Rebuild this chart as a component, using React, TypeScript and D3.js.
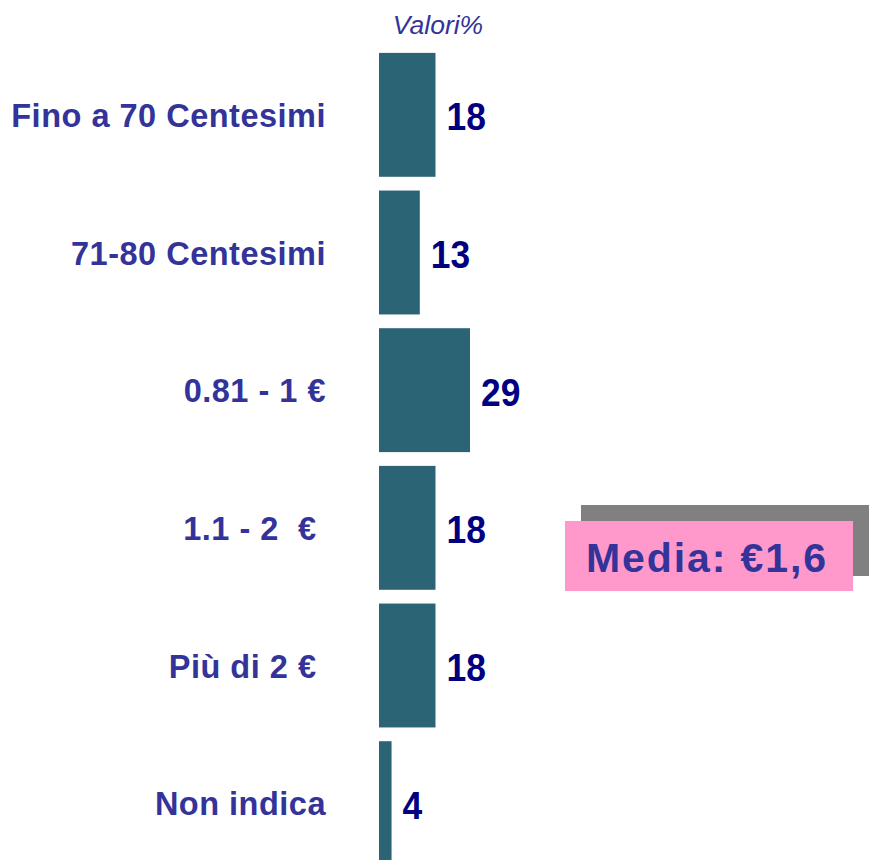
import React, { useRef, useEffect } from "react";
import * as d3 from "d3";

const categories = [
  "Fino a 70 Centesimi",
  "71-80 Centesimi",
  "0.81 - 1 €",
  "1.1 - 2  € ",
  "Più di 2 € ",
  "Non indica",
];
const values = [18, 13, 29, 18, 18, 4];
const title = "Valori%";
const mediaLabel = "Media: €1,6";

const FONT = "'Liberation Sans', Arial, sans-serif";

const App = () => {
  const svgRef = useRef<SVGSVGElement>(null);

  useEffect(() => {
    const width = 870;
    const height = 860;
    const svg = d3.select(svgRef.current).attr("width", width).attr("height", height);
    svg.selectAll("*").remove();

    const data = categories.map((c, i) => ({ cat: c, value: values[i] }));

    const x = d3.scaleLinear().domain([0, 29]).range([379, 470]);
    const y = d3
      .scaleBand()
      .domain(categories)
      .range([46, 872])
      .paddingInner(0.1)
      .paddingOuter(0.05);

    svg
      .append("text")
      .attr("x", 438)
      .attr("y", 34)
      .attr("text-anchor", "middle")
      .attr("font-family", FONT)
      .attr("font-style", "italic")
      .attr("font-size", 26.5)
      .attr("fill", "#333399")
      .text(title);

    svg
      .selectAll("rect.bar")
      .data(data)
      .join("rect")
      .attr("class", "bar")
      .attr("x", x(0))
      .attr("y", (d) => y(d.cat)!)
      .attr("width", (d) => x(d.value) - x(0))
      .attr("height", y.bandwidth())
      .attr("fill", "#2B6475");

    svg
      .selectAll("text.val")
      .data(data)
      .join("text")
      .attr("class", "val")
      .attr(
        "transform",
        (d) => `translate(${x(d.value) + 11},${y(d.cat)! + y.bandwidth() / 2 + 15.5}) scale(0.92,1)`
      )
      .attr("font-family", FONT)
      .attr("font-weight", "bold")
      .attr("font-size", 38.5)
      .attr("fill", "#000080")
      .text((d) => d.value);

    svg
      .selectAll("text.cat")
      .data(data)
      .join("text")
      .attr("class", "cat")
      .attr("x", 326)
      .attr("y", (d) => y(d.cat)! + y.bandwidth() / 2 + 12)
      .attr("text-anchor", "end")
      .style("white-space", "pre")
      .attr("font-family", FONT)
      .attr("font-weight", "bold")
      .attr("font-size", 32.5)
      .attr("letter-spacing", 0.5)
      .attr("fill", "#333399")
      .text((d) => d.cat);

    // media box with shadow
    const g = svg.append("g");
    g.append("rect").attr("x", 581).attr("y", 505).attr("width", 288).attr("height", 71).attr("fill", "#808080");
    g.append("rect").attr("x", 565).attr("y", 521).attr("width", 288).attr("height", 70).attr("fill", "#FF99CC");
    g.append("text")
      .attr("x", 586)
      .attr("y", 572)
      .attr("font-family", FONT)
      .attr("font-weight", "bold")
      .attr("font-size", 41)
      .attr("letter-spacing", 1.9)
      .attr("fill", "#333399")
      .text(mediaLabel);
  }, []);

  return (
    <svg
      ref={svgRef}
      style={{ position: "absolute", left: 0, top: 0, background: "#fff" }}
    ></svg>
  );
};

export default App;
